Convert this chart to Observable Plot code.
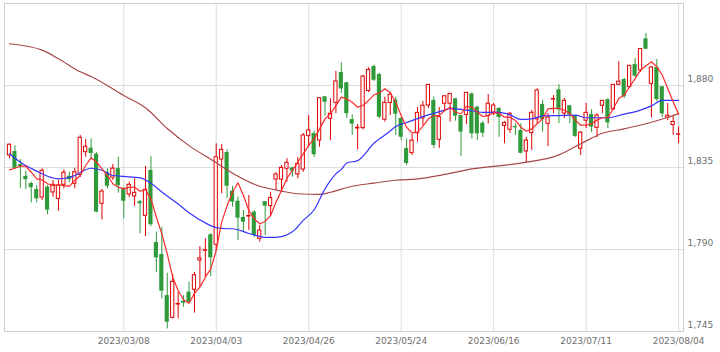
<!DOCTYPE html>
<html><head><meta charset="utf-8">
<script src="https://cdn.jsdelivr.net/npm/d3@7"></script>
<script src="https://cdn.jsdelivr.net/npm/@observablehq/plot@0.6"></script>
<style>html,body{margin:0;padding:0;background:#fff}#chart svg{display:block}</style>
</head><body><div id="chart"></div>
<script>
// Daily candles (trading-day index 0..123, 2023/02/06 .. 2023/08/04)
const openP = [1841.6,1843.8,1836.5,1830.1,1826.2,1822.9,1818.5,1824.2,1821.3,1817.8,1825.5,1830.2,1826.1,1831.0,1843.4,1845.6,1842.3,1815.1,1832.4,1829.4,
1834.4,1823.5,1820.2,1819.1,1816.3,1808.5,1833.4,1793.8,1787.3,1764.7,1752.5,1759.8,1761.6,1766.6,1767.9,1784.0,1789.3,1798.1,1792.6,1839.4,
1843.2,1822.0,1816.5,1807.6,1808.1,1810.5,1795.9,1816.3,1813.8,1828.4,1828.4,1834.3,1834.8,1831.2,1833.9,1852.2,1853.6,1849.8,1873.8,1861.7,
1870.5,1887.1,1881.5,1861.3,1856.4,1856.6,1877.0,1890.4,1886.0,1861.2,1870.4,1872.0,1861.9,1845.4,1843.0,1853.8,1861.9,1869.0,1871.8,1850.2,
1870.0,1870.0,1872.7,1863.5,1863.9,1875.4,1868.1,1859.3,1863.2,1865.2,1867.4,1857.9,1855.7,1857.5,1855.3,1843.8,1853.9,1861.4,1869.6,1859.0,
1872.3,1877.6,1864.6,1868.9,1863.4,1845.3,1860.7,1864.1,1856.8,1868.9,1872.2,1866.9,1880.4,1883.3,1879.2,1891.5,1888.3,1905.6,1880.9,1889.9,
1879.3,1862.3,1858.3,1853.0];
const highP = [1848.0,1846.9,1839.4,1833.0,1826.9,1825.1,1834.3,1825.1,1827.9,1827.9,1833.7,1832.4,1834.6,1852.6,1850.4,1850.7,1843.1,1822.9,1834.3,1836.6,
1840.6,1824.2,1826.9,1828.8,1816.9,1835.5,1841.0,1799.5,1802.2,1777.0,1776.3,1766.6,1764.7,1772.1,1777.5,1791.6,1795.9,1798.8,1848.0,1847.5,
1844.7,1824.7,1818.7,1811.4,1819.6,1811.4,1803.2,1816.3,1821.4,1832.1,1836.1,1839.8,1835.2,1840.6,1853.7,1863.5,1854.8,1873.4,1874.0,1872.7,
1887.7,1892.5,1881.6,1863.9,1858.6,1885.5,1889.7,1891.2,1886.6,1873.6,1876.2,1873.6,1862.4,1850.7,1853.1,1867.9,1871.2,1880.6,1873.6,1867.9,
1874.2,1875.6,1872.9,1863.5,1876.2,1875.9,1868.5,1860.2,1875.1,1870.1,1867.9,1860.2,1865.3,1859.0,1859.0,1851.5,1866.3,1878.2,1871.8,1864.6,
1874.5,1880.4,1872.9,1869.0,1863.5,1854.8,1870.1,1866.8,1864.6,1871.8,1872.9,1880.6,1893.0,1883.9,1891.0,1894.8,1900.3,1908.5,1890.2,1894.3,
1879.5,1870.1,1863.7,1857.3];
const lowP = [1839.8,1834.3,1823.5,1822.9,1815.6,1815.6,1816.9,1809.1,1818.7,1810.9,1823.3,1826.6,1823.3,1829.5,1840.6,1839.9,1810.1,1806.3,1823.3,1827.9,
1820.9,1806.8,1818.5,1813.6,1798.6,1797.1,1802.6,1777.5,1762.9,1746.4,1751.9,1752.0,1758.3,1760.4,1755.1,1769.3,1774.8,1775.2,1788.9,1820.6,
1818.0,1813.2,1794.9,1799.9,1800.4,1796.6,1794.0,1797.7,1808.7,1822.4,1821.4,1826.9,1829.7,1828.8,1832.3,1846.1,1840.5,1846.1,1863.2,1849.8,
1864.5,1875.6,1861.9,1852.6,1844.7,1855.7,1876.2,1882.2,1861.9,1859.9,1863.5,1852.6,1849.8,1836.1,1841.6,1848.9,1858.1,1867.4,1845.4,1845.4,
1866.3,1859.9,1860.4,1841.0,1858.6,1850.8,1849.8,1851.5,1859.0,1863.5,1851.6,1848.0,1853.7,1852.6,1842.5,1837.4,1844.3,1859.0,1854.4,1846.5,
1864.5,1859.1,1861.9,1859.1,1851.5,1841.6,1856.4,1854.2,1851.3,1864.6,1856.4,1866.3,1880.0,1872.9,1878.4,1884.4,1887.1,1899.7,1862.3,1871.2,
1862.4,1860.8,1852.7,1848.2];
const closeP = [1847.5,1834.6,1835.4,1828.3,1823.9,1817.8,1833.2,1811.6,1825.5,1825.1,1832.1,1828.3,1832.4,1851.3,1846.4,1842.7,1810.5,1821.8,1824.7,1834.4,
1825.1,1816.5,1825.5,1821.1,1815.1,1822.8,1803.6,1785.4,1767.1,1750.1,1772.3,1760.1,1760.5,1761.1,1775.9,1785.1,1789.6,1785.4,1840.6,1844.7,
1824.7,1816.0,1807.2,1805.0,1808.4,1797.7,1800.4,1813.8,1818.2,1831.2,1834.8,1837.6,1833.0,1837.0,1852.6,1855.3,1842.0,1873.0,1870.8,1864.5,
1882.2,1878.1,1864.5,1858.8,1856.8,1884.9,1888.6,1882.9,1862.6,1870.5,1874.9,1864.3,1851.6,1837.2,1849.7,1865.0,1868.9,1880.3,1847.1,1862.6,
1874.1,1875.4,1863.2,1854.4,1876.0,1853.5,1853.5,1853.8,1870.0,1869.0,1862.4,1859.5,1864.5,1856.8,1842.8,1849.8,1865.0,1877.3,1861.2,1862.4,
1872.6,1866.6,1871.6,1863.8,1852.1,1854.1,1865.0,1857.2,1863.5,1871.6,1859.5,1880.3,1882.1,1873.9,1890.8,1885.1,1900.0,1899.9,1889.9,1872.3,
1864.4,1863.4,1860.0,1853.2];

// Short moving average (red), one reading per trading day
const maShort = [1833.7,1834.6,1835.7,1835.7,1832.4,1828.8,1828.2,1826.1,1825.1,1825.5,1825.1,1824.6,1827.9,1830.6,1836.1,1840.3,1837.9,1834.3,1830.6,1826.1,
1824.2,1823.3,1824.2,1824.2,1822.0,1822.8,1817.8,1807.7,1798.6,1787.6,1774.8,1767.5,1762.4,1760.5,1766.0,1769.3,1774.8,1779.4,1789.5,1805.0,
1814.1,1821.4,1826.6,1819.6,1811.4,1806.8,1804.1,1805.4,1808.7,1816.0,1822.4,1829.1,1833.4,1837.9,1842.5,1847.1,1850.7,1856.2,1861.7,1864.6,
1869.0,1873.6,1872.7,1870.8,1868.1,1869.0,1871.8,1874.9,1875.8,1878.2,1876.0,1870.8,1863.5,1857.1,1854.0,1854.4,1857.7,1861.7,1863.5,1863.5,
1866.3,1868.1,1865.3,1864.5,1868.6,1868.1,1865.3,1863.0,1863.5,1865.0,1864.8,1862.6,1862.6,1860.8,1857.1,1854.9,1856.2,1859.0,1861.7,1867.2,
1867.5,1867.4,1866.4,1864.6,1861.0,1858.2,1858.2,1859.1,1861.0,1862.3,1862.3,1867.4,1872.9,1874.7,1879.3,1883.8,1888.4,1890.8,1893.0,1890.3,
1885.7,1878.4,1871.1,1864.1];

// Medium moving average (blue), readings at sampled trading days
const maMidIdx = [0,2,5,7,9,11,12,15,17,19,21,24,26,28,31,33,36,38,40,41,44,47,49,52,54,56,58,60,61,62,64,67,70,71,73,77,80,81,84,87,90,92,94,96,98,101,104,106,110,113,116,118,120,123];
const maMidVal = [1842.5,1837.9,1833.0,1830.2,1828.8,1829.5,1830.6,1834.6,1833.5,1830.6,1830.1,1829.3,1826.4,1821.6,1815.0,1810.2,1804.6,1802.0,1801.4,1801.4,1798.8,1796.7,1796.7,1799.7,1806.0,1811.8,1823.3,1831.5,1834.0,1837.5,1838.8,1848.3,1855.0,1857.5,1859.7,1863.9,1866.5,1867.5,1866.5,1865.3,1865.2,1863.9,1861.4,1861.7,1863.3,1863.5,1863.7,1862.3,1862.3,1864.3,1866.5,1868.8,1871.8,1871.8];

// Long moving average (brown), readings at sampled trading days
const maLongIdx = [0,6,9,13,15,21,25,29,33,37,42,45,50,53,57,59,63,67,71,75,80,85,94,101,105,109,113,117,121,123];
const maLongVal = [1902.9,1899.4,1894.7,1887.5,1884.9,1874.5,1867.8,1856.4,1847.0,1839.5,1830.2,1825.8,1822.0,1820.6,1820.2,1821.4,1824.7,1826.4,1828.0,1828.8,1831.2,1834.2,1837.4,1841.9,1848.0,1853.8,1856.2,1859.0,1862.6,1864.6];

const yTicks = [1745, 1790, 1835, 1880];
const xTickIdx = [21, 38, 55, 72, 89, 106, 123];
const xTickLabels = ["2023/03/08","2023/04/03","2023/04/26","2023/05/24","2023/06/16","2023/07/11","2023/08/04"];

const upColor = "#e00000", downColor = "#2f9a3a";
const candles = openP.map((o, i) => ({i, open: o, high: highP[i], low: lowP[i], close: closeP[i], up: closeP[i] >= o}));
const upC = candles.filter(d => d.up), downC = candles.filter(d => !d.up);
const shortLine = maShort.map((v, i) => ({i, v}));
const midLine = maMidIdx.map((i, k) => ({i, v: maMidVal[k]}));
const longLine = maLongIdx.map((i, k) => ({i, v: maLongVal[k]}));

const chart = Plot.plot({
  width: 720, height: 352,
  marginLeft: 4, marginRight: 37, marginTop: 3, marginBottom: 21,
  style: {fontFamily: "DejaVu Sans", fontSize: "9px", color: "#6e6e6e", background: "#fff"},
  x: {type: "linear", domain: [-0.92, 123.9]},
  y: {type: "linear", domain: [1745, 1925]},
  marks: [
    Plot.ruleY(yTicks, {stroke: "#dcdcdc"}),
    Plot.ruleX(xTickIdx, {stroke: "#dcdcdc"}),
    Plot.frame({stroke: "#cfcfcf"}),
    Plot.ruleX(downC, {x: "i", y1: "low", y2: "high", stroke: downColor}),
    Plot.rect(downC, {x1: d => d.i - 0.38, x2: d => d.i + 0.38, y1: "open", y2: "close", fill: downColor}),
    Plot.ruleX(upC, {x: "i", y1: "low", y2: "high", stroke: upColor}),
    Plot.rect(upC, {x1: d => d.i - 0.3, x2: d => d.i + 0.3, y1: "open", y2: "close", fill: "white", stroke: upColor, strokeWidth: 1}),
    Plot.line(longLine, {x: "i", y: "v", stroke: "#a84848", strokeWidth: 1.2, curve: "monotone-x"}),
    Plot.line(midLine, {x: "i", y: "v", stroke: "#3535ff", strokeWidth: 1.2, curve: "monotone-x"}),
    Plot.line(shortLine, {x: "i", y: "v", stroke: "#ff2a2a", strokeWidth: 1.2}),
    Plot.axisY({anchor: "right", ticks: yTicks, tickSize: 0, tickPadding: 4, tickFormat: d3.format(","), dy: -6, label: null}),
    Plot.axisX({ticks: xTickIdx, tickSize: 0, tickPadding: 6, tickFormat: d => xTickLabels[xTickIdx.indexOf(d)], label: null})
  ]
});
document.getElementById("chart").appendChild(chart);
</script>
</body></html>
